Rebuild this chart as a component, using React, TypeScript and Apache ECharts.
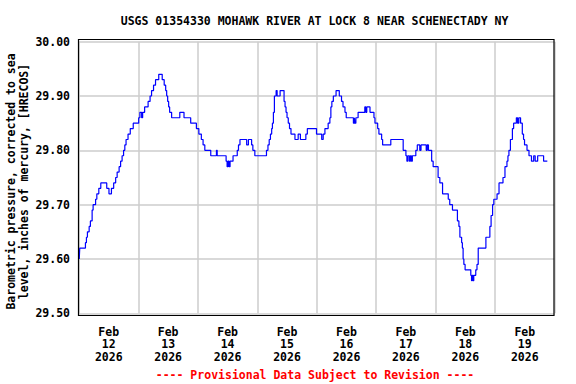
import React, { useEffect, useRef } from "react";
import * as echarts from "echarts";

const TITLE = "USGS 01354330 MOHAWK RIVER AT LOCK 8 NEAR SCHENECTADY NY";
const Y_TITLE = "Barometric pressure, corrected to sea\nlevel, inches of mercury, [HRECOS]";
const FOOTER = "---- Provisional Data Subject to Revision ----";
const DATE_LABELS = ["Feb\n12\n2026", "Feb\n13\n2026", "Feb\n14\n2026", "Feb\n15\n2026", "Feb\n16\n2026", "Feb\n17\n2026", "Feb\n18\n2026", "Feb\n19\n2026"];

// hours since Feb 12 2026 00:00
const HOURS = [
  0.1, 0.3, 2.1, 2.6, 3.0, 3.4, 4.1, 4.6, 5.3, 5.7, 6.7, 7.2, 8.0, 8.8, 10.4, 11.2, 12.1, 12.6, 13.1, 14.0,
  14.8, 15.4, 16.2, 16.8, 17.4, 18.0, 18.5, 19.0, 19.8, 20.7, 21.9, 24.1, 24.6, 25.3, 25.7, 26.5, 27.9, 28.7, 29.3, 30.1,
  30.9, 32.2, 33.6, 34.4, 35.0, 35.4, 35.8, 36.2, 36.6, 37.4, 40.0, 40.7, 42.4, 45.1, 47.4, 48.4, 49.4, 50.1, 50.8, 53.2,
  55.5, 55.8, 59.4, 59.8, 60.2, 60.6, 61.0, 62.2, 63.9, 64.4, 65.0, 67.7, 68.4, 69.7, 70.2, 71.0, 75.7, 76.3, 76.8, 77.3,
  77.8, 78.1, 78.5, 78.9, 79.6, 80.0, 81.2, 82.8, 83.2, 83.6, 84.0, 84.5, 85.0, 85.6, 87.2, 88.5, 89.4, 91.6, 92.2, 95.9,
  98.0, 98.6, 99.3, 100.6, 101.3, 101.7, 102.1, 102.7, 103.8, 105.1, 106.0, 106.6, 107.4, 107.9, 110.8, 111.2, 111.4, 111.8, 112.7, 115.4,
  115.8, 116.2, 117.5, 119.1, 119.5, 120.6, 121.1, 122.2, 122.6, 125.9, 130.9, 132.0, 132.4, 132.8, 133.4, 133.8, 134.2, 134.6, 136.0, 136.6,
  137.6, 138.1, 140.2, 140.6, 141.1, 142.4, 143.0, 145.0, 145.7, 146.8, 149.1, 149.7, 150.8, 152.8, 153.4, 153.8, 154.5, 154.8, 155.1, 155.4,
  155.9, 158.2, 158.5, 158.8, 159.1, 159.4, 160.2, 160.7, 161.2, 164.3, 165.9, 166.4, 167.0, 167.5, 168.8, 169.6, 171.2, 172.0, 172.8, 173.2,
  173.6, 174.2, 175.0, 175.5, 176.6, 177.1, 177.6, 178.3, 179.0, 179.5, 179.9, 180.9, 181.7, 182.7, 183.6, 184.2, 185.2, 187.6, 189.1,
];

const PRESSURE = [
  29.60, 29.62, 29.62, 29.63, 29.64, 29.65, 29.66, 29.67, 29.69, 29.70, 29.71, 29.72, 29.73, 29.74, 29.74, 29.73, 29.72, 29.72, 29.73, 29.74,
  29.75, 29.76, 29.77, 29.78, 29.79, 29.80, 29.81, 29.82, 29.83, 29.84, 29.85, 29.86, 29.87, 29.86, 29.87, 29.88, 29.89, 29.90, 29.91, 29.92,
  29.93, 29.94, 29.93, 29.92, 29.91, 29.90, 29.89, 29.88, 29.87, 29.86, 29.86, 29.87, 29.86, 29.85, 29.84, 29.83, 29.82, 29.81, 29.80, 29.79,
  29.80, 29.79, 29.78, 29.77, 29.78, 29.77, 29.78, 29.79, 29.80, 29.81, 29.82, 29.81, 29.82, 29.81, 29.80, 29.79, 29.80, 29.81, 29.82, 29.83,
  29.84, 29.85, 29.87, 29.90, 29.91, 29.90, 29.91, 29.89, 29.88, 29.87, 29.86, 29.85, 29.84, 29.83, 29.82, 29.83, 29.82, 29.83, 29.84, 29.83,
  29.82, 29.83, 29.84, 29.85, 29.86, 29.88, 29.89, 29.90, 29.91, 29.90, 29.89, 29.88, 29.87, 29.86, 29.85, 29.86, 29.85, 29.86, 29.87, 29.88,
  29.87, 29.88, 29.87, 29.86, 29.85, 29.84, 29.83, 29.82, 29.81, 29.82, 29.80, 29.79, 29.78, 29.79, 29.78, 29.79, 29.78, 29.79, 29.80, 29.81,
  29.80, 29.81, 29.80, 29.81, 29.80, 29.78, 29.77, 29.75, 29.74, 29.72, 29.71, 29.70, 29.69, 29.67, 29.66, 29.64, 29.63, 29.62, 29.60, 29.59,
  29.58, 29.57, 29.56, 29.57, 29.56, 29.57, 29.58, 29.59, 29.62, 29.64, 29.66, 29.68, 29.70, 29.71, 29.72, 29.74, 29.75, 29.77, 29.78, 29.79,
  29.80, 29.82, 29.84, 29.85, 29.86, 29.85, 29.86, 29.85, 29.83, 29.82, 29.81, 29.80, 29.79, 29.78, 29.79, 29.78, 29.79, 29.78, 29.78,
];

const Y_MIN = 29.5;
const Y_MAX = 30.0;
const Y_STEP = 0.1;
const X_MAX_HOURS = 192;

const FONT = "'DejaVu Sans Mono', monospace";

export default function App() {
  const ref = useRef<HTMLDivElement>(null);
  useEffect(() => {
    if (!ref.current) return;
    const chart = echarts.init(ref.current, null, { renderer: "svg" });
    const data = HOURS.map((h, i) => [h, PRESSURE[i]]);
    chart.setOption({
      animation: false,
      backgroundColor: "#ffffff",
      grid: { left: 79, right: 21.5, top: 41.7, bottom: 70.7, containLabel: false },
      xAxis: [
        {
          type: "value",
          min: 0,
          max: X_MAX_HOURS,
          interval: 24,
          axisLabel: { show: false },
          axisTick: { show: false },
          axisLine: { show: false },
          splitLine: { show: true, lineStyle: { color: "#cccccc", width: 1.5 } },
        },
        {
          type: "category",
          data: DATE_LABELS,
          boundaryGap: true,
          position: "bottom",
          axisTick: { show: false },
          axisLine: { show: false },
          splitLine: { show: false },
          axisLabel: {
            interval: 0,
            margin: 12,
            color: "#000",
            fontFamily: FONT,
            fontWeight: "bold",
            fontSize: 11.5,
            lineHeight: 12.5,
          },
        },
      ],
      yAxis: {
        type: "value",
        min: Y_MIN,
        max: Y_MAX,
        interval: Y_STEP,
        axisLine: { show: false },
        axisTick: { show: false },
        splitLine: { show: true, lineStyle: { color: "#cccccc", width: 1.5 } },
        axisLabel: {
          margin: 9,
          color: "#000",
          fontFamily: FONT,
          fontWeight: "bold",
          fontSize: 11.5,
          formatter: (v: number) => v.toFixed(2),
        },
      },
      series: [
        {
          type: "line",
          xAxisIndex: 0,
          data,
          step: "end",
          showSymbol: false,
          symbol: "none",
          lineStyle: { color: "#0000ff", width: 1.2 },
        },
      ],
      graphic: [
        {
          type: "rect",
          shape: { x: 78.5, y: 39.5, width: 475.5, height: 276 },
          style: { fill: "none", stroke: "#000", lineWidth: 1.2 },
          silent: true,
          z: 100,
        },
        {
          type: "text",
          x: 314.6,
          y: 21,
          style: {
            text: TITLE,
            fill: "#000",
            font: `bold 11.5px ${FONT}`,
            textAlign: "center",
            textVerticalAlign: "middle",
          },
        },
        {
          type: "text",
          x: 17.5,
          y: 181.5,
          rotation: Math.PI / 2,
          style: {
            text: Y_TITLE,
            fill: "#000",
            font: `bold 11.5px ${FONT}`,
            lineHeight: 13,
            textAlign: "center",
            textVerticalAlign: "middle",
          },
        },
        {
          type: "text",
          x: 315,
          y: 375,
          style: {
            text: FOOTER,
            fill: "#ff0000",
            font: `bold 11.5px ${FONT}`,
            textAlign: "center",
            textVerticalAlign: "middle",
          },
        },
      ],
    });
    return () => chart.dispose();
  }, []);
  return (
    <div
      ref={ref}
      style={{ position: "fixed", left: 0, top: 0, width: 576, height: 384, background: "#fff" }}
    />
  );
}
